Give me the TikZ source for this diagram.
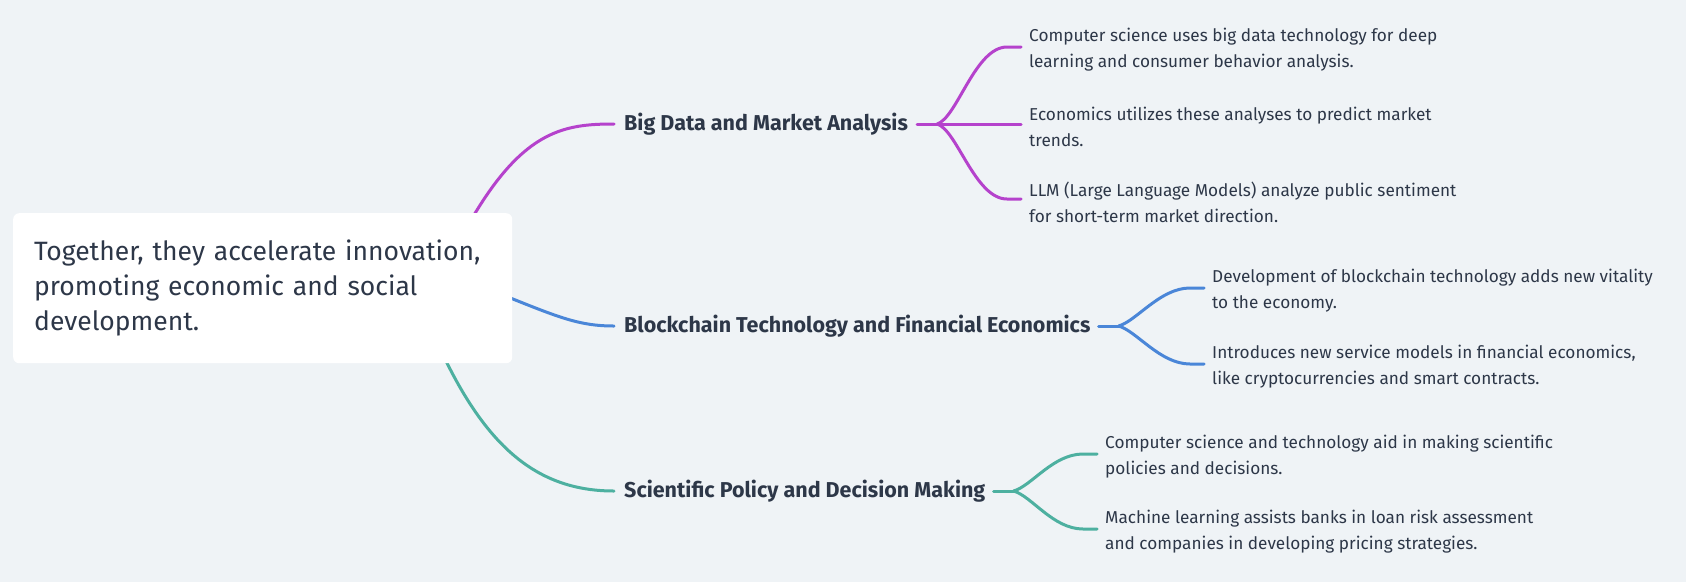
\documentclass[tikz,border=0pt]{standalone}
\usepackage{fontspec}
\setmainfont{Fira Sans}
\usetikzlibrary{calc}
\definecolor{bgc}{RGB}{239,243,246}
\definecolor{txt}{RGB}{45,55,72}
\definecolor{cpur}{RGB}{181,66,204}
\definecolor{cblu}{RGB}{74,134,216}
\definecolor{ctea}{RGB}{77,176,160}
\tikzset{
  rootbox/.style={fill=white, rounded corners=6pt, text=txt, align=left, text width=457pt, inner xsep=21pt, inner ysep=0pt, minimum height=150pt, anchor=north west, font=\fontsize{26.5}{35}\selectfont},
  branch/.style={anchor=west, inner sep=0pt, text=txt, font=\fontsize{21.5}{24}\bfseries\selectfont},
  leaf/.style={anchor=west, inner sep=0pt, yshift=-3pt, text=txt, align=left, font=\fontsize{17.2}{26}\selectfont},
  conn/.style={line width=3pt, line cap=round},
}
\begin{document}
\begin{tikzpicture}[x=1pt,y=-1pt]
\useasboundingbox (0,0) rectangle (1686,582);
\fill[bgc] (0,0) rectangle (1686,582);

% branch labels
\node[branch] (b1) at (624,124) {Big Data and Market Analysis};
\node[branch] (b2) at (624,326) {Blockchain Technology and Financial Economics};
\node[branch] (b3) at (624,491) {Scientific Policy and Decision Making};

% leaves
\node[leaf] (l1a) at (1029,47) {Computer science uses big data technology for deep\\learning and consumer behavior analysis.};
\node[leaf] (l1b) at (1029,124) {Economics utilizes these analyses to predict market\\trends.};
\node[leaf] (l1c) at (1029,199) {LLM (Large Language Models) analyze public sentiment\\for short-term market direction.};
\node[leaf] (l2a) at (1212,288) {Development of blockchain technology adds new vitality\\to the economy.};
\node[leaf] (l2b) at (1212,364) {Introduces new service models in financial economics,\\like cryptocurrencies and smart contracts.};
\node[leaf] (l3a) at (1105,454) {Computer science and technology aid in making scientific\\policies and decisions.};
\node[leaf] (l3b) at (1105,529) {Machine learning assists banks in loan risk assessment\\and companies in developing pricing strategies.};

% root connectors (drawn before the box)
\path (13,213) coordinate (rootnw);
\draw[conn, cpur] ($(rootnw)+(461,2)$) .. controls (525,130) and (565,124) .. ([xshift=-10pt]b1.west);
\draw[conn, cblu] ($(rootnw)+(490,82)$) .. controls (560,318) and (580,326) .. ([xshift=-10pt]b2.west);
\draw[conn, ctea] ($(rootnw)+(433,148)$) .. controls (490,450) and (540,491) .. ([xshift=-10pt]b3.west);

\node[rootbox] (root) at (rootnw) {\mbox{Together, they accelerate innovation,}\\\mbox{promoting economic and social}\\\mbox{development.}};

% forks
\draw[conn, cpur] ([xshift=9pt]b1.east) -- ++(20,0) coordinate (f1);
\draw[conn, cpur] (f1) .. controls +(20,-6) and +(-32,0) .. ([xshift=-22pt,yshift=3pt]l1a.west) -- ([xshift=-8pt,yshift=3pt]l1a.west);
\draw[conn, cpur] (f1) -- ([xshift=-8pt,yshift=3pt]l1b.west);
\draw[conn, cpur] (f1) .. controls +(20,6) and +(-32,0) .. ([xshift=-22pt,yshift=3pt]l1c.west) -- ([xshift=-8pt,yshift=3pt]l1c.west);

\draw[conn, cblu] ([xshift=8pt]b2.east) -- ++(20,0) coordinate (f2);
\draw[conn, cblu] (f2) .. controls +(18,-5) and +(-30,0) .. ([xshift=-22pt,yshift=3pt]l2a.west) -- ([xshift=-8pt,yshift=3pt]l2a.west);
\draw[conn, cblu] (f2) .. controls +(18,5) and +(-30,0) .. ([xshift=-22pt,yshift=3pt]l2b.west) -- ([xshift=-8pt,yshift=3pt]l2b.west);

\draw[conn, ctea] ([xshift=8pt]b3.east) -- ++(20,0) coordinate (f3);
\draw[conn, ctea] (f3) .. controls +(18,-5) and +(-30,0) .. ([xshift=-22pt,yshift=3pt]l3a.west) -- ([xshift=-8pt,yshift=3pt]l3a.west);
\draw[conn, ctea] (f3) .. controls +(18,5) and +(-30,0) .. ([xshift=-22pt,yshift=3pt]l3b.west) -- ([xshift=-8pt,yshift=3pt]l3b.west);
\end{tikzpicture}
\end{document}
